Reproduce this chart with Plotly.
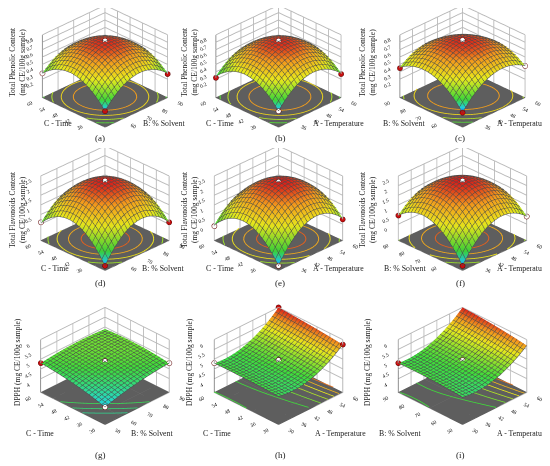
import numpy as np
import plotly.graph_objects as go
from plotly.colors import sample_colorscale

# ---------------- data ----------------
temperature_range = [30, 60]
time_range = [30, 60]
solvent_range = [50, 90]
temperature_ticks = [30, 36, 42, 48, 54, 60]
time_ticks = [30, 36, 42, 48, 54, 60]
solvent_ticks = [50, 60, 70, 80, 90]

tpc_ticks = [0.2, 0.3, 0.4, 0.5, 0.6, 0.7, 0.8]
tfc_ticks = [0, 0.5, 1, 1.5, 2, 2.5]
dpph_ticks = [4, 4.5, 5, 5.5, 6]

# quadratic response-surface coefficients in coded units
# [b0, b_x, b_y, b_xx, b_yy, b_xy]
tpc_time_solvent = [0.71, 0.0075, 0.0075, -0.239, -0.239, -0.0475]
tpc_time_temperature = [0.71, 0.0175, -0.0025, -0.244, -0.244, -0.0375]
tpc_solvent_temperature = [0.71, 0.03, 0.02, -0.2125, -0.2125, -0.085]
tfc_time_solvent = [2.2, 0.1125, 0.0875, -1.181, -1.181, -0.2375]
tfc_time_temperature = [2.2, 0.1875, 0.0125, -1.169, -1.169, -0.2625]
tfc_solvent_temperature = [2.2, 0.1375, 0.1625, -1.069, -1.069, -0.3625]
dpph_time_solvent = [4.87, 0.175, 0.175, -0.0975, -0.0975, -0.125]
dpph_time_temperature = [4.9, 0.55, 0.075, 0.45, -0.025, 0.05]
dpph_solvent_temperature = [4.93, 0.55, 0.1, 0.42, -0.05, 0.05]

# floor contour levels
tpc_levels = [0.3, 0.4, 0.5, 0.6]
tfc_levels = [0.5, 1.0, 1.5, 1.9]
dpph_levels_g = [4.5, 4.6, 4.7]
dpph_levels_hi = [4.8, 5.0, 5.2, 5.4, 5.6, 5.8]

# design points shown on each panel: x, y, z, colour (w = white, r = red)
pts_a_x = [70, 50, 90, 50]; pts_a_y = [45, 60, 30, 30]; pts_a_z = [0.72, 0.28, 0.27, 0.17]; pts_a_c = ["w", "w", "r", "r"]
pts_b_x = [45, 30, 60, 30]; pts_b_y = [45, 60, 30, 30]; pts_b_z = [0.72, 0.22, 0.27, 0.17]; pts_b_c = ["w", "r", "r", "w"]
pts_c_x = [45, 30, 60, 30]; pts_c_y = [70, 90, 50, 50]; pts_c_z = [0.73, 0.35, 0.38, 0.15]; pts_c_c = ["w", "r", "w", "r"]
pts_d_x = [70, 50, 90, 50]; pts_d_y = [45, 60, 30, 30]; pts_d_z = [2.25, 0.1, 0.1, -0.6]; pts_d_c = ["w", "w", "r", "r"]
pts_e_x = [45, 30, 60, 30]; pts_e_y = [45, 60, 30, 30]; pts_e_z = [2.2, -0.1, 0.25, -0.6]; pts_e_c = ["w", "w", "r", "w"]
pts_f_x = [45, 30, 60, 30]; pts_f_y = [70, 90, 50, 50]; pts_f_z = [2.25, 0.45, 0.4, -0.6]; pts_f_c = ["w", "r", "w", "r"]
pts_g_x = [70, 50, 90, 50]; pts_g_y = [45, 60, 30, 30]; pts_g_z = [4.9, 4.8, 4.8, 4.2]; pts_g_c = ["w", "r", "w", "w"]
pts_h_x = [45, 30, 60, 60]; pts_h_y = [45, 60, 30, 60]; pts_h_z = [4.95, 4.8, 5.75, 6.0]; pts_h_c = ["w", "w", "r", "r"]
pts_i_x = [45, 30]; pts_i_y = [70, 90]; pts_i_z = [4.95, 4.8]; pts_i_c = ["w", "r"]

captions = ["(a)", "(b)", "(c)", "(d)", "(e)", "(f)", "(g)", "(h)", "(i)"]
tpc_title = "Total Phenolic Content<br>(mg CE/100g sample)"
tfc_title = "Total Flavonoids Content<br>(mg CE/100g sample)"
dpph_title = "DPPH (mg CE/100g sample)"

# ---------------- styling ----------------
FONT = "Liberation Serif"
SCALE_PHEN = [[0, "#1c4dff"], [0.08, "#1fd6e8"], [0.22, "#3fdc3a"], [0.55, "#e8e81c"],
              [0.8, "#f29a1c"], [1, "#d8201a"]]
SCALE_DPPH = [[0, "#1c4dff"], [0.1, "#1fd6e8"], [0.4, "#3fdc3a"], [0.7, "#e8e81c"],
              [0.85, "#f29a1c"], [1, "#d8201a"]]
FLOOR = "#5e5e5e"

N = 41
fig = go.Figure()


def model(coef, xr, yr):
    xs = np.linspace(xr[0], xr[1], N)
    ys = np.linspace(yr[0], yr[1], N)
    X, Y = np.meshgrid(xs, ys)
    u = (X - (xr[0] + xr[1]) / 2) / ((xr[1] - xr[0]) / 2)
    v = (Y - (yr[0] + yr[1]) / 2) / ((yr[1] - yr[0]) / 2)
    b0, bx, by, bxx, byy, bxy = coef
    Z = b0 + bx * u + by * v + bxx * u * u + byy * v * v + bxy * u * v
    return xs, ys, Z


def contour_segments(xs, ys, Z, level):
    sx, sy = [], []
    ny, nx = Z.shape
    for j in range(ny - 1):
        for i in range(nx - 1):
            corners = [(xs[i], ys[j], Z[j, i]), (xs[i + 1], ys[j], Z[j, i + 1]),
                       (xs[i + 1], ys[j + 1], Z[j + 1, i + 1]), (xs[i], ys[j + 1], Z[j + 1, i])]
            pts = []
            for e in range(4):
                xa, ya, za = corners[e]
                xb, yb, zb = corners[(e + 1) % 4]
                if (za - level) * (zb - level) < 0:
                    t = (level - za) / (zb - za)
                    pts.append((xa + t * (xb - xa), ya + t * (yb - ya)))
            for p in range(0, len(pts) - 1, 2):
                sx += [pts[p][0], pts[p + 1][0], None]
                sy += [pts[p][1], pts[p + 1][1], None]
    return sx, sy


col_x = [[0.009, 0.344], [0.3227, 0.6627], [0.6555, 0.9955]]
row_y = [[0.735, 1.0], [0.43, 0.70], [0.08, 0.385]]
row_aspect = [(1.44, 1.16), (1.44, 1.16), (1.28, 0.86)]
row_eye = [0.7, 0.7, 0.82]
row_center = [-0.06, -0.05, 0.0]
zt_x = [9, 181, 359]
zt_y = [54, 202, 354]
cap_x = [92, 272, 452]
cap_y = [130, 275, 447]
lab_y = [115, 260, 425]

panels = [
    ("tpc", solvent_range, time_range, solvent_ticks, time_ticks, tpc_time_solvent, "C - Time", "B: % Solvent",
     (pts_a_x, pts_a_y, pts_a_z, pts_a_c), (50, 156), tpc_levels),
    ("tpc", temperature_range, time_range, temperature_ticks, time_ticks, tpc_time_temperature, "C - Time", "A - Temperature",
     (pts_b_x, pts_b_y, pts_b_z, pts_b_c), (212, 330), tpc_levels),
    ("tpc", temperature_range, solvent_range, temperature_ticks, solvent_ticks, tpc_solvent_temperature, "B: % Solvent", "A - Temperature",
     (pts_c_x, pts_c_y, pts_c_z, pts_c_c), (396, 514), tpc_levels),
    ("tfc", solvent_range, time_range, solvent_ticks, time_ticks, tfc_time_solvent, "C - Time", "B: % Solvent",
     (pts_d_x, pts_d_y, pts_d_z, pts_d_c), (47, 155), tfc_levels),
    ("tfc", temperature_range, time_range, temperature_ticks, time_ticks, tfc_time_temperature, "C - Time", "A - Temperature",
     (pts_e_x, pts_e_y, pts_e_z, pts_e_c), (212, 330), tfc_levels),
    ("tfc", temperature_range, solvent_range, temperature_ticks, solvent_ticks, tfc_solvent_temperature, "B: % Solvent", "A - Temperature",
     (pts_f_x, pts_f_y, pts_f_z, pts_f_c), (397, 514), tfc_levels),
    ("dpph", solvent_range, time_range, solvent_ticks, time_ticks, dpph_time_solvent, "C - Time", "B: % Solvent",
     (pts_g_x, pts_g_y, pts_g_z, pts_g_c), (32, 144), dpph_levels_g),
    ("dpph", temperature_range, time_range, temperature_ticks, time_ticks, dpph_time_temperature, "C - Time", "A - Temperature",
     (pts_h_x, pts_h_y, pts_h_z, pts_h_c), (209, 332), dpph_levels_hi),
    ("dpph", temperature_range, solvent_range, temperature_ticks, solvent_ticks, dpph_solvent_temperature, "B: % Solvent", "A - Temperature",
     (pts_i_x, pts_i_y, pts_i_z, pts_i_c), (392, 514), dpph_levels_hi),
]

resp = {
    "tpc": dict(zr=[-0.05, 0.8], zt=tpc_ticks, cmin=0.15, cmax=0.72, scale=SCALE_PHEN, title=tpc_title),
    "tfc": dict(zr=[-0.85, 2.5], zt=tfc_ticks, cmin=-0.65, cmax=2.2, scale=SCALE_PHEN, title=tfc_title),
    "dpph": dict(zr=[3.3, 6.0], zt=dpph_ticks, cmin=4.0, cmax=6.0, scale=SCALE_DPPH, title=dpph_title),
}


def note(text, px, py, size, angle=0):
    return dict(text=text, x=px / 550, y=1 - py / 466, xref="paper", yref="paper", showarrow=False,
                xanchor="center", yanchor="middle", textangle=angle,
                font=dict(family=FONT, size=size, color="#222"))


annotations = []
layout_scenes = {}
for k, (rk, xr, yr, xt, yt, coef, ylab, xlab, pts, labx, levels) in enumerate(panels):
    r, c = divmod(k, 3)
    R = resp[rk]
    sid = "scene" if k == 0 else f"scene{k + 1}"
    xs, ys, Z = model(coef, xr, yr)
    zr = R["zr"]
    eps = (zr[1] - zr[0]) * 0.004
    # dark floor
    fig.add_trace(go.Surface(
        x=[xr[0], xr[1]], y=[yr[0], yr[1]], z=[[zr[0] + eps, zr[0] + eps], [zr[0] + eps, zr[0] + eps]],
        scene=sid, showscale=False, colorscale=[[0, FLOOR], [1, FLOOR]], hoverinfo="skip",
        lighting=dict(ambient=1, diffuse=0, specular=0, fresnel=0),
    ))
    # floor contour lines
    for lev in levels:
        sx, sy = contour_segments(xs, ys, Z, lev)
        if not sx:
            continue
        col = sample_colorscale(R["scale"], [(lev - R["cmin"]) / (R["cmax"] - R["cmin"])])[0]
        fig.add_trace(go.Scatter3d(
            x=sx, y=sy, z=[zr[0] + 2 * eps] * len(sx), scene=sid, mode="lines", connectgaps=False,
            line=dict(color=col, width=2), hoverinfo="skip", showlegend=False,
        ))
    # response surface
    fig.add_trace(go.Surface(
        x=xs, y=ys, z=Z, scene=sid, showscale=False,
        colorscale=R["scale"], cmin=R["cmin"], cmax=R["cmax"],
        lighting=dict(ambient=0.9, diffuse=0.3, specular=0.05, roughness=0.9),
        hoverinfo="skip",
        contours=dict(
            x=dict(show=True, start=xr[0], end=xr[1], size=(xr[1] - xr[0]) / 20, color="#4a4a4a", width=1),
            y=dict(show=True, start=yr[0], end=yr[1], size=(yr[1] - yr[0]) / 20, color="#4a4a4a", width=1),
        ),
    ))
    px_, py_, pz_, pc_ = pts
    fig.add_trace(go.Scatter3d(
        x=px_, y=py_, z=pz_, scene=sid, mode="markers", hoverinfo="skip", showlegend=False,
        marker=dict(size=3, color=["#ffffff" if q == "w" else "#c81010" for q in pc_],
                    line=dict(color="#5a0000", width=1)),
    ))
    axis_common = dict(showbackground=True, backgroundcolor="white", gridcolor="#b8b8b8",
                       showline=True, linecolor="#555", zeroline=False, ticks="",
                       tickfont=dict(family=FONT, size=8, color="#111"), title=dict(text=""),
                       showspikes=False)
    axy, az = row_aspect[r]
    layout_scenes[sid] = dict(
        domain=dict(x=col_x[c], y=row_y[r]),
        xaxis=dict(axis_common, range=xr, tickvals=xt),
        yaxis=dict(axis_common, range=yr, tickvals=yt),
        zaxis=dict(axis_common, range=zr, tickvals=R["zt"], showbackground=False),
        aspectmode="manual", aspectratio=dict(x=axy, y=axy, z=az),
        camera=dict(eye=dict(x=-1.0, y=-1.0, z=row_eye[r]), center=dict(x=0, y=0, z=row_center[r]),
                    projection=dict(type="orthographic")),
    )
    annotations.append(note(R["title"], zt_x[c], zt_y[r], 7.5, -90))
    annotations.append(note(captions[k], cap_x[c], cap_y[r], 9))
    annotations.append(note(ylab, labx[0], lab_y[r], 7.8))
    annotations.append(note(xlab, labx[1], lab_y[r], 7.8))

fig.update_layout(width=550, height=466, margin=dict(l=0, r=0, t=0, b=0),
                  paper_bgcolor="white", showlegend=False, annotations=annotations, **layout_scenes)
fig.write_html("out.html")
